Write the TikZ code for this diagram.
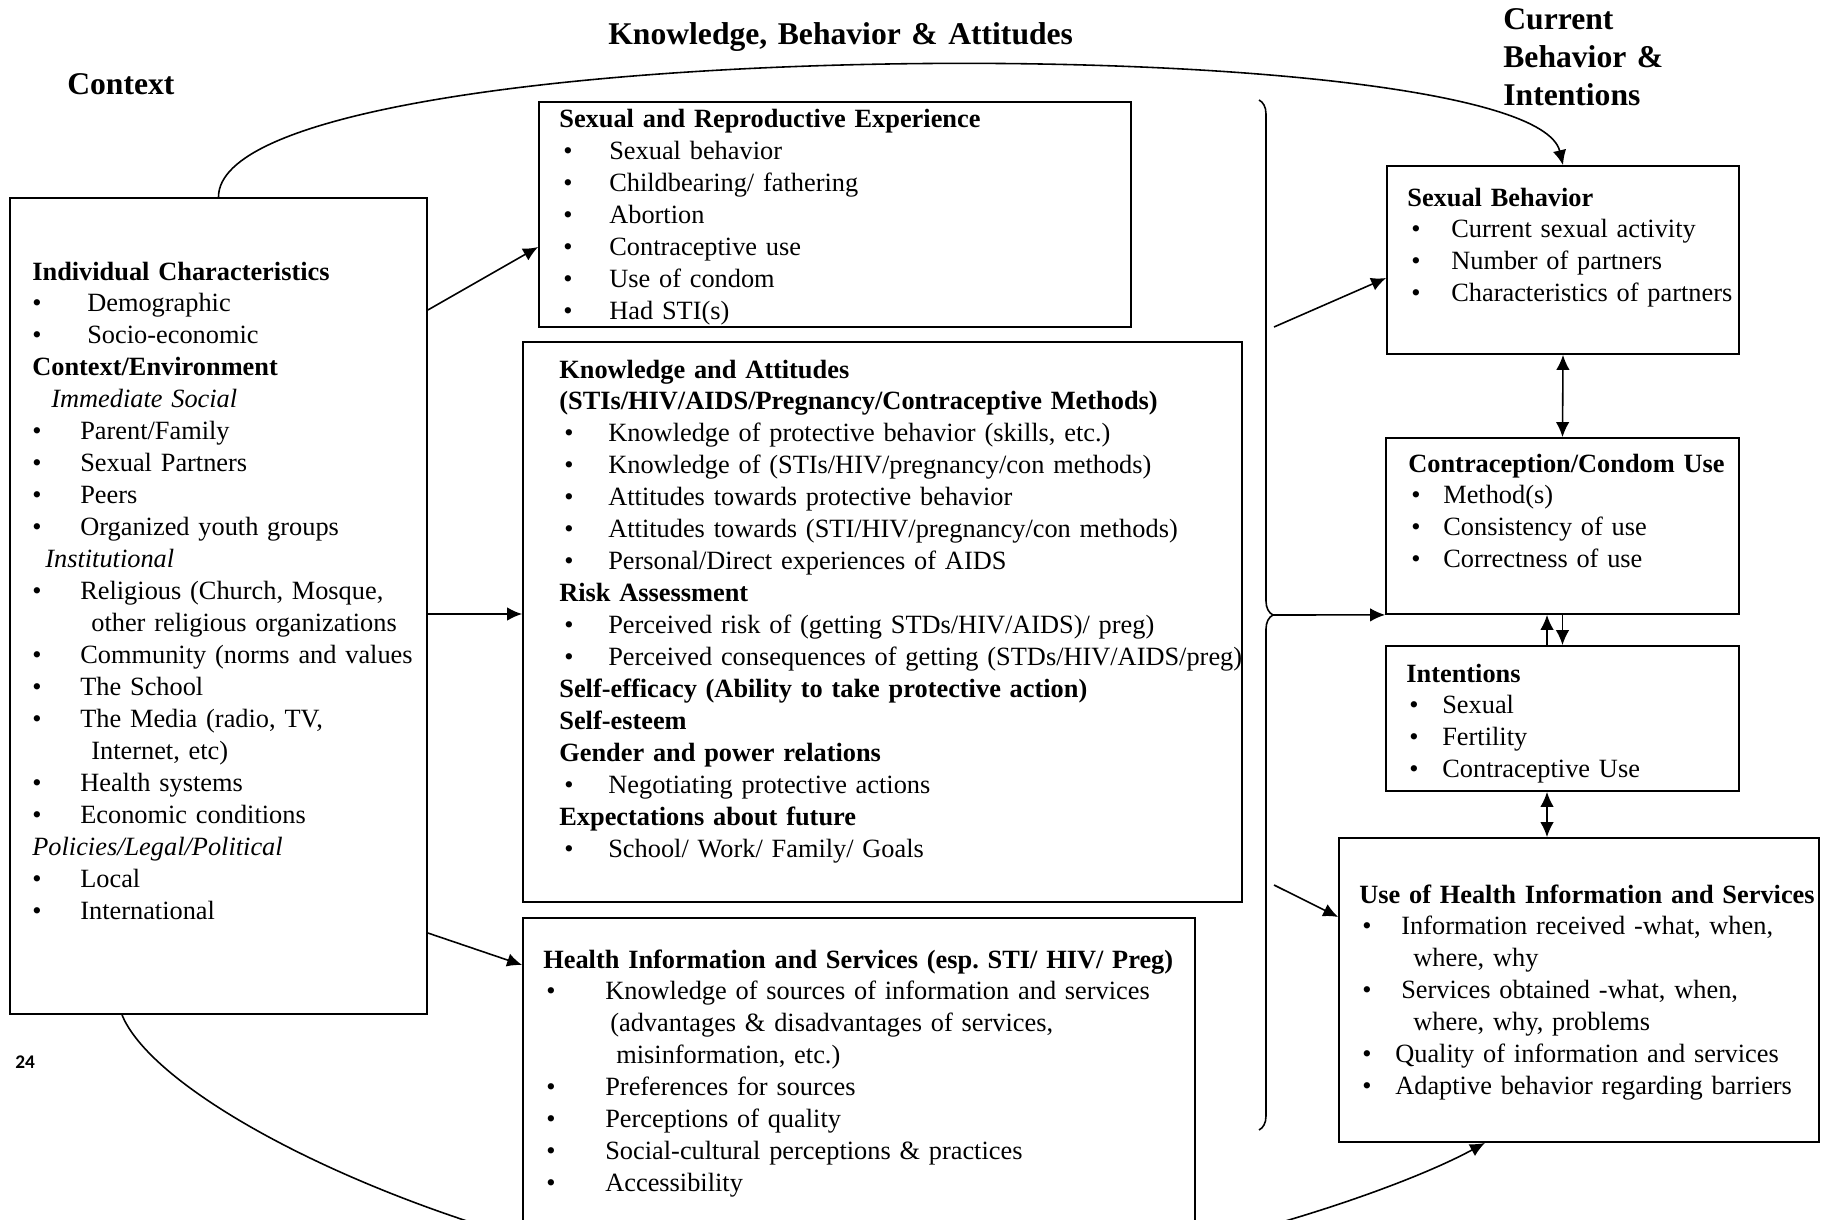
\documentclass[tikz,border=0pt]{standalone}
\usepackage{fontspec}
\setmainfont{Liberation Serif}
\newfontfamily\pagefont{Carlito}
\usetikzlibrary{arrows.meta,positioning,fit,decorations.pathreplacing}
\newcommand{\blt}[2][0cm]{\hspace*{#1}\makebox[#2][l]{\textbullet}}
\frenchspacing

\begin{document}
\begin{tikzpicture}[x=0.02cm,y=-0.02cm,>=Latex,
  box/.style={draw=black,line width=1pt,inner sep=0pt},
  txt/.style={anchor=base west,align=left,inner sep=0pt,text width=22cm,font=\fontsize{15}{18.2}\selectfont},
  ttl/.style={anchor=base west,align=left,inner sep=0pt,text width=12cm,font=\fontsize{18}{21.6}\selectfont\bfseries},
  arr/.style={line width=0.9pt,-{Latex[length=0.3cm,width=0.27cm]}},
  dbl/.style={line width=0.9pt,{Latex[length=0.3cm,width=0.27cm]}-{Latex[length=0.3cm,width=0.27cm]}}]
\useasboundingbox (0,0) rectangle (1822,1220);
\clip (0,0) rectangle (1822,1220);

\node[ttl] (tctx) at (67,94) {Context};
\node[ttl] (tkba) at (608,45) {Knowledge, Behavior \& Attitudes};
\node[ttl] (tcbi) at (1503,30) {Current\\Behavior \&\\Intentions};

\node[box,fit={(10,198) (427,1014)}] (ctx) {};
\node[box,fit={(539,102) (1131,327)}] (sre) {};
\node[box,fit={(523,342) (1242,902)}] (ka) {};
\node[box,fit={(523,918) (1195,1260)}] (his) {};
\node[box,fit={(1387,166) (1739,354)}] (sb) {};
\node[box,fit={(1386,438) (1739,614)}] (cc) {};
\node[box,fit={(1386,646) (1739,791)}] (int) {};
\node[box,fit={(1339,838) (1819,1142)}] (use) {};

\node[txt] (ctxt) at (32,280) {\textbf{Individual Characteristics}\\
\blt{1.1cm}Demographic\\
\blt{1.1cm}Socio-economic\\
\textbf{Context/Environment}\\
\hspace*{0.38cm}\textit{Immediate Social}\\
\blt{0.96cm}Parent/Family\\
\blt{0.96cm}Sexual Partners\\
\blt{0.96cm}Peers\\
\blt{0.96cm}Organized youth groups\\
\hspace*{0.26cm}\textit{Institutional}\\
\blt{0.96cm}Religious (Church, Mosque,\\
\hspace*{1.18cm}other religious organizations\\
\blt{0.96cm}Community (norms and values\\
\blt{0.96cm}The School\\
\blt{0.96cm}The Media (radio, TV,\\
\hspace*{1.18cm}Internet, etc)\\
\blt{0.96cm}Health systems\\
\blt{0.96cm}Economic conditions\\
\textit{Policies/Legal/Political}\\
\blt{0.96cm}Local\\
\blt{0.96cm}International};

\node[txt] (sret) at (559,128) {\textbf{Sexual and Reproductive Experience}\\
\blt[0.08cm]{0.92cm}Sexual behavior\\
\blt[0.08cm]{0.92cm}Childbearing/ fathering\\
\blt[0.08cm]{0.92cm}Abortion\\
\blt[0.08cm]{0.92cm}Contraceptive use\\
\blt[0.08cm]{0.92cm}Use of condom\\
\blt[0.08cm]{0.92cm}Had STI(s)};

\node[txt] (kat) at (559,378) {\textbf{Knowledge and Attitudes}\\
\textbf{(STIs/HIV/AIDS/Pregnancy/Contraceptive Methods)}\\
\blt[0.1cm]{0.88cm}Knowledge of protective behavior (skills, etc.)\\
\blt[0.1cm]{0.88cm}Knowledge of (STIs/HIV/pregnancy/con methods)\\
\blt[0.1cm]{0.88cm}Attitudes towards protective behavior\\
\blt[0.1cm]{0.88cm}Attitudes towards (STI/HIV/pregnancy/con methods)\\
\blt[0.1cm]{0.88cm}Personal/Direct experiences of AIDS\\
\textbf{Risk Assessment}\\
\blt[0.1cm]{0.88cm}Perceived risk of (getting STDs/HIV/AIDS)/ preg)\\
\blt[0.1cm]{0.88cm}Perceived consequences of getting (STDs/HIV/AIDS/preg)\\
\textbf{Self-efficacy (Ability to take protective action)}\\
\textbf{Self-esteem}\\
\textbf{Gender and power relations}\\
\blt[0.1cm]{0.88cm}Negotiating protective actions\\
\textbf{Expectations about future}\\
\blt[0.1cm]{0.88cm}School/ Work/ Family/ Goals};

\node[txt] (hist) at (543,968) {\textbf{Health Information and Services (esp. STI/ HIV/ Preg)}\\
\blt[0.06cm]{1.18cm}Knowledge of sources of information and services\\
\hspace*{1.34cm}(advantages \& disadvantages of services,\\
\hspace*{1.46cm}misinformation, etc.)\\
\blt[0.06cm]{1.18cm}Preferences for sources\\
\blt[0.06cm]{1.18cm}Perceptions of quality\\
\blt[0.06cm]{1.18cm}Social-cultural perceptions \& practices\\
\blt[0.06cm]{1.18cm}Accessibility};

\node[txt] (sbt) at (1407,206) {\textbf{Sexual Behavior}\\
\blt[0.08cm]{0.8cm}Current sexual activity\\
\blt[0.08cm]{0.8cm}Number of partners\\
\blt[0.08cm]{0.8cm}Characteristics of partners};

\node[txt] (cct) at (1408,472) {\textbf{Contraception/Condom Use}\\
\blt[0.06cm]{0.64cm}Method(s)\\
\blt[0.06cm]{0.64cm}Consistency of use\\
\blt[0.06cm]{0.64cm}Correctness of use};

\node[txt] (intt) at (1406,682) {\textbf{Intentions}\\
\blt[0.06cm]{0.66cm}Sexual\\
\blt[0.06cm]{0.66cm}Fertility\\
\blt[0.06cm]{0.66cm}Contraceptive Use};

\node[txt] (uset) at (1359,903) {\textbf{Use of Health Information and Services}\\
\blt[0.06cm]{0.78cm}Information received -what, when,\\
\hspace*{1.08cm}where, why\\
\blt[0.06cm]{0.78cm}Services obtained -what, when,\\
\hspace*{1.08cm}where, why, problems\\
\blt[0.06cm]{0.66cm}Quality of information and services\\
\blt[0.06cm]{0.66cm}Adaptive behavior regarding barriers};

\node[anchor=base west,inner sep=0pt,font=\pagefont\fontsize{11}{13}\selectfont\bfseries] (pg) at (15,1068) {24};

\coordinate (bt) at (1259,100);
\coordinate (bb) at (1259,1130);
\coordinate (bsb) at (1274,327);
\coordinate (bcc) at (1273,615);
\coordinate (buse) at (1274,885);
\draw[line width=0.9pt,decorate,decoration={brace,amplitude=0.28cm}] (bt) -- (bb);

\draw[arr] (ctx.east |- 0,310) -- (sre.west |- 0,247);
\draw[arr] (ctx.east |- 0,614) -- (ka.west |- 0,614);
\draw[arr] (ctx.east |- 0,933) -- (his.west |- 0,965);
\draw[arr] (bsb) -- (sb.west |- 0,278);
\draw[arr] (bcc) -- (cc.south west);
\draw[arr] (buse) -- (use.west |- 0,917);
\draw[dbl] (sb.south) -- (cc.north);
\draw[arr] (cc.south) -- (int.north);
\draw[arr] ([xshift=-0.31cm]int.north) -- ([xshift=-0.31cm]cc.south);
\coordinate (iu) at ([xshift=-0.31cm]int.south);
\draw[dbl] (iu) -- (iu |- use.north);
\draw[arr] (ctx.north) .. controls (218,30) and (1530,25) .. (sb.north);
\draw[arr] (ctx.south -| 122,0) .. controls (165,1120) and (540,1290) .. (860,1290) .. controls (1100,1290) and (1380,1200) .. (use.south -| 1485,0);
\end{tikzpicture}
\end{document}
